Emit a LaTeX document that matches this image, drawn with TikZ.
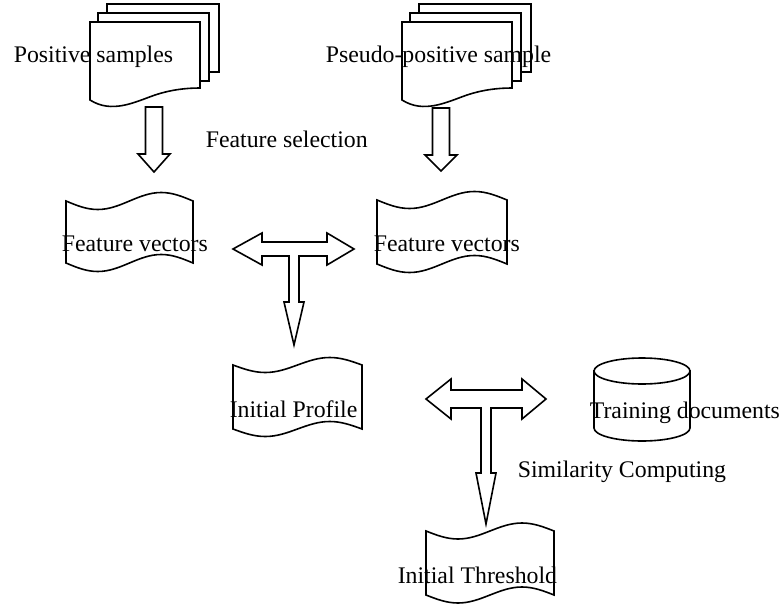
\documentclass[tikz,border=0pt]{standalone}
\usepackage{fontspec}
\setmainfont{Liberation Serif}
\newcommand\mytape[5]{%
  \path[shp] (#1,#3) sin ({#1+(#2-#1)/4},{#3+#5}) cos ({(#1+#2)/2},#3)
    sin ({#1+3*(#2-#1)/4},{#3-#5}) cos (#2,#3) -- (#2,#4)
    sin ({#2-(#2-#1)/4},{#4-#5}) cos ({(#1+#2)/2},#4)
    sin ({#1+(#2-#1)/4},{#4+#5}) cos (#1,#4) -- cycle;}
\tikzset{
  shp/.style={draw=black, fill=white},
  lbl/.style={anchor=base west, inner sep=0pt, font=\fontsize{23.8}{28}\selectfont},
  pics/mdoc/.style={code={
    \path[shp] (17,-18) rectangle (129,50);
    \path[shp] (8,-9) rectangle (119,59);
    \path[shp] (110,66) -- (110,0) -- (0,0) -- (0,78)
      .. controls (22,92) and (45,80) .. (65,73)
      .. controls (80,68) and (95,66) .. (110,66) -- cycle;
  }}
}
\begin{document}
\begin{tikzpicture}[x=1pt,y=-1pt,line width=1.6pt,line join=miter]
\useasboundingbox (0,0) rectangle (781,607);
% multi-document stacks
\pic at (90,22) {mdoc};
\pic at (402,22) {mdoc};
% down block arrows
\path[shp] (145.5,107) -- (162.5,107) -- (162.5,154) -- (170,154) -- (154,172)
  -- (138,154) -- (145.5,154) -- cycle;
\path[shp] (432.5,108) -- (449.5,108) -- (449.5,155) -- (457,155) -- (441,171)
  -- (425,155) -- (432.5,155) -- cycle;
% tapes
\mytape{66}{193}{201}{263}{8.5}
\mytape{377}{507}{200}{264}{8.5}
\mytape{233}{362}{365}{429}{7.5}
\mytape{426}{554}{531}{595}{8}
% T arrow 1
\path[shp] (233,249) -- (262,233) -- (262,242) -- (327,242) -- (327,233) -- (354,249)
  -- (327,265) -- (327,256) -- (299,256) -- (299,302) -- (304,302) -- (294,345)
  -- (284,302) -- (289,302) -- (289,256) -- (262,256) -- (262,265) -- cycle;
% T arrow 2
\path[shp] (426,399) -- (451,379) -- (451,390) -- (522,390) -- (522,379) -- (546,399)
  -- (522,419) -- (522,408) -- (491,408) -- (491,473) -- (496,473) -- (486,524)
  -- (476,473) -- (481,473) -- (481,408) -- (451,408) -- (451,419) -- cycle;
% cylinder
\path[shp] (594,371) -- (594,428) arc[start angle=180,end angle=0,x radius=48,y radius=13]
  -- (690,371) -- cycle;
\path[shp] (642,371) ellipse[x radius=48,y radius=13];
% labels
\node[lbl] (ps) at (13,63) {Positive samples};
\node[lbl] (pps) at (325,63) {Pseudo-positive sample};
\node[lbl] (fs) at (205,147) {Feature selection};
\node[lbl] (fv1) at (61,251) {Feature vectors};
\node[lbl] (fv2) at (373,251) {Feature vectors};
\node[lbl] (ip) at (229,417) {Initial Profile};
\node[lbl] (td) at (589,418) {Training documents};
\node[lbl] (sc) at (517,477) {Similarity Computing};
\node[lbl] (it) at (397,583) {Initial Threshold};
\end{tikzpicture}
\end{document}
